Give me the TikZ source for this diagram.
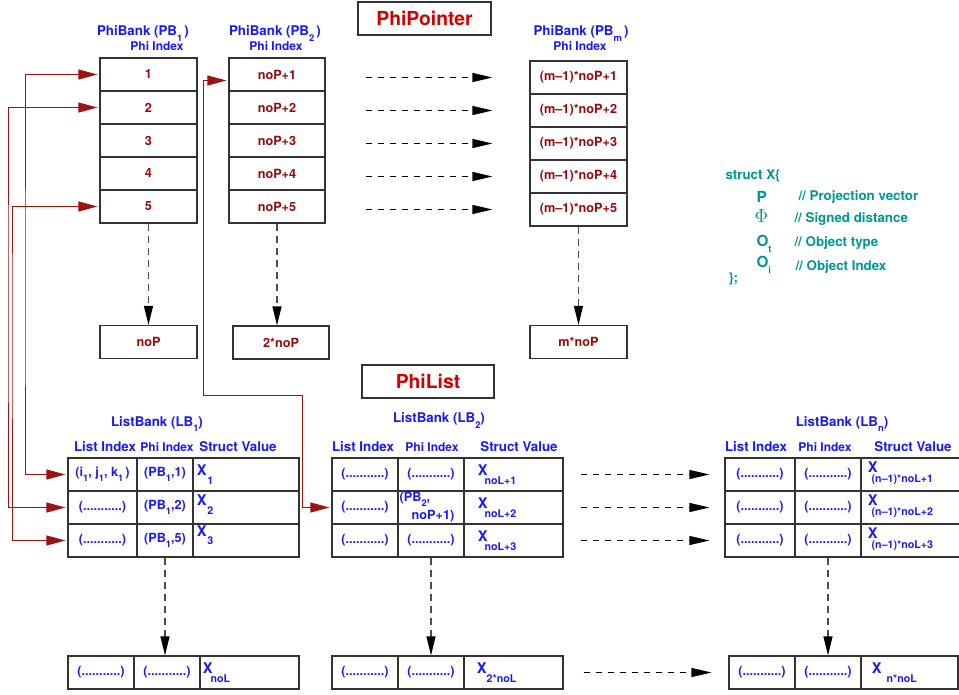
\documentclass[tikz,border=0pt]{standalone}
\usepackage{fontspec}
\setmainfont{TeX Gyre Heros}
\usetikzlibrary{arrows.meta}

\definecolor{bankblue}{RGB}{25,25,245}
\definecolor{idxred}{RGB}{150,10,10}
\definecolor{headred}{RGB}{210,0,0}
\definecolor{linkred}{RGB}{155,20,20}
\definecolor{structteal}{RGB}{0,150,150}

% lowered index inside the bold labels
\newcommand{\lo}[1]{\raisebox{-0.4em}{\fontsize{7}{8}\selectfont #1}}
% struct value X with its index set below the letter
\newcommand{\xv}[3][-6.5pt]{X\kern#2\raisebox{#1}{\fontsize{8}{9}\selectfont #3}}
\newcommand{\emptyidx}{(...........)}

\tikzset{every picture/.style={line width=0.75pt},
  cellbox/.style={draw=black!80, line width=0.9pt, inner sep=0pt, minimum height=24.75pt},
  pbcell/.style={cellbox, minimum width=72.75pt, text=idxred, font=\fontsize{9.5}{11}\selectfont\bfseries},
  lbcell/.style={cellbox, text=bankblue, font=\fontsize{9.5}{13.5}\selectfont\bfseries, align=left},
  titlebox/.style={cellbox, minimum width=99.75pt, text=headred, font=\fontsize{14.5}{16}\selectfont\bfseries},
  banklabel/.style={anchor=base, inner sep=0pt, text=bankblue, font=\fontsize{10}{11}\selectfont\bfseries},
  idxlabel/.style={banklabel, font=\fontsize{9}{10}\selectfont\bfseries},
  xval/.style={anchor=west, inner sep=0pt, text=bankblue, font=\fontsize{11}{12}\selectfont\bfseries},
  structtxt/.style={anchor=base west, inner sep=0pt, text=structteal, font=\fontsize{10}{11}\selectfont\bfseries},
  structbig/.style={structtxt, font=\fontsize{11.5}{12}\selectfont\bfseries},
  link/.style={draw=linkred, line width=0.75pt, {Triangle[length=14.25pt,width=7.5pt]}-{Triangle[length=14.25pt,width=7.5pt]}, shorten <=1.5pt, shorten >=1.5pt},
  nextarrow/.style={draw=black, line width=0.9pt, dash pattern=on 4.5pt off 4.5pt, -{Triangle[length=15pt,width=6.75pt]}},
  downarrow/.style={draw=black!70, line width=0.9pt, dash pattern=on 5.25pt off 3.75pt, -{Triangle[length=14.25pt,width=6.75pt,color=black]}}
}

\begin{document}
\begin{tikzpicture}[x=0.75pt,y=0.75pt,yscale=-1,xscale=1]
\useasboundingbox (0,0) rectangle (959,695);

% ---------------- PhiPointer ----------------
\node[titlebox] (phipointer) at (424.5,18.5) {PhiPointer};

% bank labels
\node[banklabel] (bankpba) at (143,35.7) {PhiBank (PB\lo{1}\,)};
\node[idxlabel] (idxpba) at (157,50.7) {Phi Index};
\node[banklabel] (bankpbb) at (275,35.7) {PhiBank (PB\lo{2}\,)};
\node[idxlabel] (idxpbb) at (276,50.7) {Phi Index};
\node[banklabel] (bankpbm) at (581,35.7) {PhiBank (PB\lo{m}\,)};
\node[idxlabel] (idxpbm) at (580,50.7) {Phi Index};

% bank columns
\foreach \row/\y in {1/74.5,2/107.5,3/140.5,4/173.5,5/206.5} {
  \node[pbcell] (pba\row) at (148.5,\y) {\row};
  \node[pbcell, minimum width=72pt] (pbb\row) at (277,\y) {noP+\row};
  \node[pbcell] (pbm\row) at (578.5,\y+3) {(m--1)*noP+\row};
}

% last index of each bank
\node[pbcell] (tota) at (148.5,342) {noP};
\node[pbcell, minimum width=72pt] (totb) at (281,342.5) {2*noP};
\node[pbcell] (totm) at (578.5,342) {m*noP};

\foreach \row in {1,...,5}
  \draw[nextarrow] ([xshift=30pt]pbb\row.east |- pbm\row) -- ([xshift=-27.75pt]pbm\row.west);

\draw[downarrow] (pba5.south) -- (tota.north);
\draw[downarrow] (pbb5.south) -- (pbb5.south |- totb.north);
\draw[downarrow] (pbm5.south) -- (totm.north);

% struct X
\node[structtxt] (structhead) at (725,180) {struct X\{};
\node[structbig] (fieldp) at (756,202.5) {P};
\node[structtxt] (notep) at (798,200) {// Projection vector};
\node[structtxt, font=\fontsize{14}{15}\selectfont] (fieldphi) at (754,222.5) {$\Phi$};
\node[structtxt] (notephi) at (794,222.5) {// Signed distance};
\node[structbig] (fieldot) at (756,246) {O\lo{t}};
\node[structtxt] (noteot) at (794,246) {// Object type};
\node[structbig] (fieldoi) at (756,267.7) {O\lo{i}};
\node[structtxt] (noteoi) at (795,270) {// Object Index};
\node[structtxt] (structtail) at (728,282) {\};};

% ---------------- PhiList ----------------
\node[titlebox, minimum width=99pt] (philist) at (428,381.5) {PhiList};

\node[banklabel] (banklba) at (157,426) {ListBank (LB\lo{1})};
\node[banklabel] (banklbb) at (439,422.7) {ListBank (LB\lo{2})};
\node[banklabel] (banklbn) at (842,426) {ListBank (LB\lo{n})};

\node[banklabel] (hlia) at (105,451) {List Index};
\node[idxlabel] (hpia) at (167,451) {Phi Index};
\node[banklabel] (hsva) at (238,451) {Struct Value};
\node[banklabel] (hlib) at (363,451) {List Index};
\node[idxlabel] (hpib) at (432,451) {Phi Index};
\node[banklabel] (hsvb) at (519,451) {Struct Value};
\node[banklabel] (hlin) at (756,451) {List Index};
\node[idxlabel] (hpin) at (825,451) {Phi Index};
\node[banklabel] (hsvn) at (913,451) {Struct Value};

% list bank 1
\node[lbcell, minimum width=51.75pt] (lba11) at (102.5,474.5) {(i\lo{1}, j\lo{1}, k\lo{1}\,)};
\node[lbcell, minimum width=51.75pt] (lba21) at (102.5,507.5) {\emptyidx};
\node[lbcell, minimum width=51.75pt] (lba31) at (102.5,540.5) {\emptyidx};
\foreach \row/\y/\pb/\dy in {1/474.5/1/0pt,2/507.5/2/-2pt,3/540.5/5/-4pt} {
  \node[lbcell, minimum width=42pt] (lba\row2) at (165,\y) {(PB\lo{1},\pb)};
  \node[lbcell, minimum width=79.5pt] (lba\row3) at (246,\y) {};
  \node[xval] (xa\row) at ([xshift=3pt,yshift=\dy]lba\row3.west) {\xv{0.5pt}{\row}};
}

% list bank 2
\foreach \row/\y/\pcell in {1/474.5/\emptyidx,2/507.5/{(PB\lo{2},\\\hspace*{9pt}noP+1)\kern6pt},3/540.5/\emptyidx} {
  \node[lbcell, minimum width=49.5pt] (lbb\row1) at (365,\y) {\emptyidx};
  \node[lbcell, minimum width=49.5pt] (lbb\row2) at (431,\y) {\pcell};
  \node[lbcell, minimum width=74.25pt] (lbb\row3) at (513.5,\y) {};
  \node[xval] (xb\row) at ([xshift=10.5pt]lbb\row3.west) {\xv{-2.25pt}{noL+\row}};
}

% list bank n
\foreach \row/\y in {1/474.5,2/507.5,3/540.5} {
  \node[lbcell, minimum width=52.5pt] (lbn\row1) at (760,\y) {\emptyidx};
  \node[lbcell, minimum width=49.5pt] (lbn\row2) at (828,\y) {\emptyidx};
  \node[lbcell, minimum width=75pt] (lbn\row3) at (911,\y) {};
  \node[xval] (xn\row) at ([xshift=5.25pt,yshift=-1pt]lbn\row3.west) {\xv[-8pt]{-4.5pt}{(n--1)*noL+\row}};
}

\foreach \row in {1,2,3}
  \draw[nextarrow] ([xshift=12.75pt]lbb\row3.east |- lbn\row1) -- ([xshift=-11.25pt]lbn\row1.west);

% last entry of each list bank
\node[lbcell, minimum width=49.5pt] (enda1) at (101,672.5) {\emptyidx};
\node[lbcell, minimum width=49.5pt] (enda2) at (167,672.5) {\emptyidx};
\node[lbcell, minimum width=74.25pt] (enda3) at (249.5,672.5) {};
\node[xval] (xaend) at ([xshift=2.25pt]enda3.west) {\xv{-1.5pt}{noL}};

\node[lbcell, minimum width=49.5pt] (endb1) at (365,672.5) {\emptyidx};
\node[lbcell, minimum width=49.5pt] (endb2) at (431,672.5) {\emptyidx};
\node[lbcell, minimum width=74.25pt] (endb3) at (513.5,672.5) {};
\node[xval] (xbend) at ([xshift=9.75pt]endb3.west) {\xv{0pt}{2*noL}};

\node[lbcell, minimum width=49.5pt] (endn1) at (762,672.5) {\emptyidx};
\node[lbcell, minimum width=49.5pt] (endn2) at (828,672.5) {\emptyidx};
\node[lbcell, minimum width=72.75pt] (endn3) at (909.5,672.5) {};
\node[xval] (xnend) at ([xshift=8.25pt]endn3.west) {\xv{3.75pt}{n*noL}};

\draw[nextarrow] ([xshift=15pt]endb3.east) -- ([xshift=-12.75pt]endn1.west);

\draw[downarrow] (lba32.south) -- (lba32.south |- enda2.north);
\draw[downarrow] (lbb32.south) -- (lbb32.south |- endb2.north);
\draw[downarrow] (lbn32.south) -- (endn2.north);

% pointers between the banks
\coordinate (railone) at (25,300);
\coordinate (railtwo) at (8,300);
\coordinate (railfive) at (12,300);
\draw[link] (pba1.west) -| (railone) |- (lba11.west);
\draw[link] (pba2.west) -| (railtwo) |- (lba21.west);
\draw[link] (pba5.west) -| (railfive) |- (lba31.west);

\coordinate (bendup) at (203,395);
\coordinate (benddown) at (302,395);
\draw[link] ([yshift=4.5pt]pbb1.west) -| (bendup) -- (benddown) |- (lbb21.west);

\end{tikzpicture}
\end{document}
